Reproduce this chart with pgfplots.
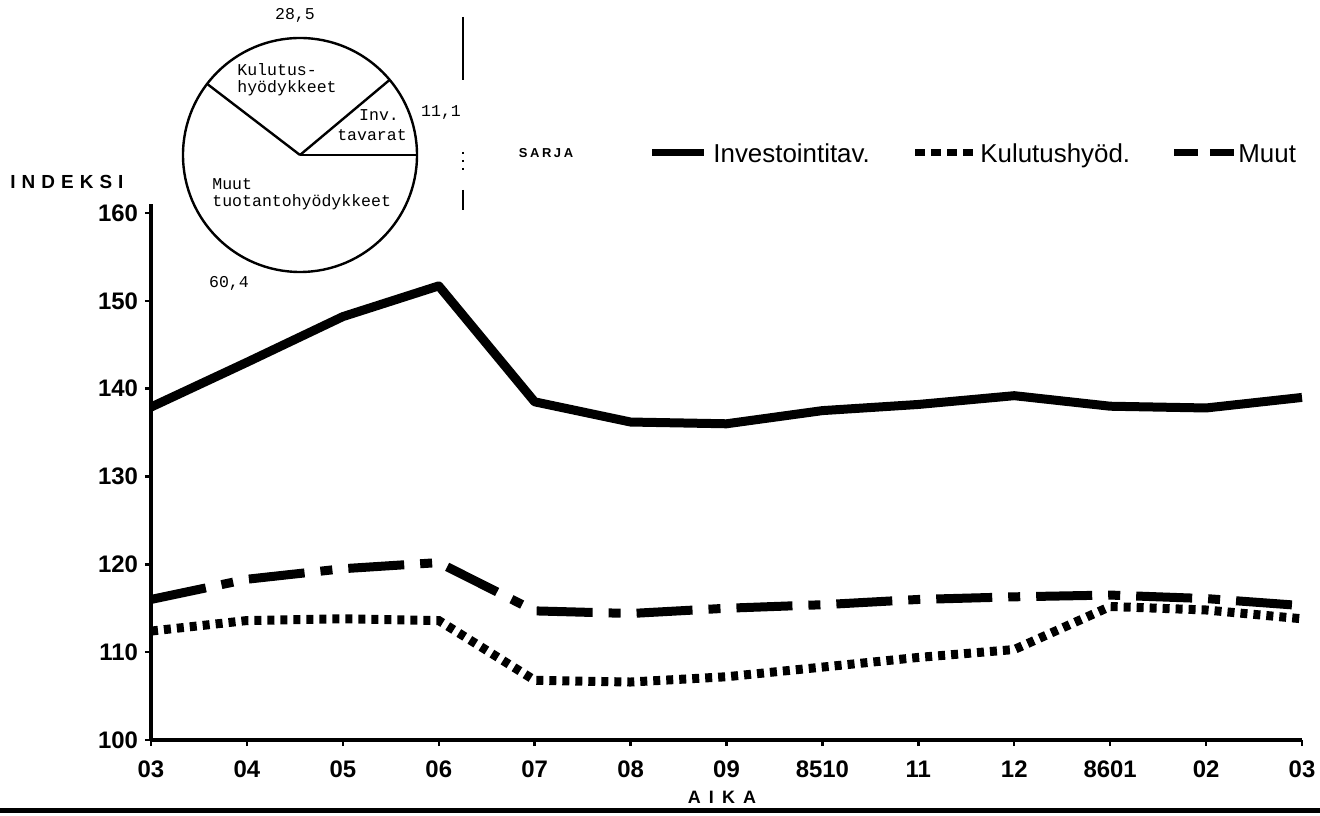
\documentclass[border=0pt]{standalone}
\usepackage{fontspec}
\setmainfont{Liberation Sans}
\newfontfamily\piefont{Liberation Mono}
\usepackage{pgfplots}
\usepackage{pgfplotstable}
\pgfplotsset{compat=1.18}

% indeksit kuukausittain, 8503 ... 8603
\pgfplotstableread{
x  inv   kul   muut
0  137.9 112.4 116.0
1  143.0 113.6 118.3
2  148.2 113.8 119.5
3  151.7 113.6 120.2
4  138.5 106.8 114.7
5  136.2 106.6 114.4
6  136.0 107.2 115.0
7  137.5 108.3 115.4
8  138.2 109.4 116.0
9  139.2 110.3 116.3
10 138.0 115.2 116.5
11 137.8 114.8 116.1
12 139.0 113.8 115.3
}\sarja

% piirakan osuudet
\def\pInv{11.1}
\def\pKul{28.5}
\def\pMuut{60.4}

\tikzset{
  invline/.style={line width=4.5bp, line join=round, line cap=butt},
  kulline/.style={line width=4.5bp, dash pattern=on 3.5bp off 3bp},
  muutline/.style={line width=4.5bp, dash pattern=on 28bp off 8bp on 6bp off 8bp},
  leg/.style={anchor=base west, inner sep=0, font=\fontsize{13}{13}\selectfont},
}

\begin{document}
\begin{tikzpicture}
\path[use as bounding box] (0,0) rectangle (660bp,408bp);

\begin{axis}[
  at={(75.5bp,38bp)}, anchor=south west,
  scale only axis, width=575.5bp, height=267.9bp,
  xmin=0, xmax=12, ymin=100, ymax=161,
  axis x line*=bottom, axis y line*=left,
  x axis line style={-}, y axis line style={-},
  axis line style={line width=1.6bp},
  xtick={0,...,12},
  xticklabels={03,04,05,06,07,08,09,8510,11,12,8601,02,03},
  ytick={100,110,...,160},
  tick align=outside, major tick length=3bp,
  tick style={line width=1.2bp, black},
  tick label style={font=\bfseries\fontsize{12}{12}\selectfont},
  /pgf/number format/assume math mode=true,
  xticklabel style={yshift=-4bp},
  clip=false,
]
\addplot[invline] table[x=x,y=inv]{\sarja};
\addplot[kulline] table[x=x,y=kul]{\sarja};
\addplot[muutline] table[x=x,y=muut]{\sarja};
\end{axis}

% akselien nimet
\node[anchor=west, inner sep=0, font=\bfseries\fontsize{9.5}{9.5}\selectfont\addfontfeatures{LetterSpace=32}] at (5bp,317bp) {INDEKSI};
\draw[line width=2.5bp] (0,2.5bp) -- (660bp,2.5bp);
\node[inner sep=0, font=\bfseries\fontsize{9}{9}\selectfont\addfontfeatures{LetterSpace=45}] at (361bp,9.5bp) {AIKA};

% selite
\node[inner sep=0, font=\bfseries\fontsize{6.5}{6.5}\selectfont\addfontfeatures{LetterSpace=20}] at (273bp,331.5bp) {SARJA};
\draw[line width=3.5bp] (326bp,331.5bp) -- (352bp,331.5bp);
\node[leg] at (356.5bp,326.8bp) {Investointitav.};
\draw[line width=3.5bp, dash pattern=on 5bp off 3bp] (457.5bp,331.5bp) -- (487bp,331.5bp);
\node[leg] at (490bp,326.8bp) {Kulutushyöd.};
\draw[line width=3.5bp, dash pattern=on 12bp off 6bp] (587bp,331.5bp) -- (617.5bp,331.5bp);
\node[leg] at (619bp,326.8bp) {Muut};

% piirakka
\coordinate (pc) at (150bp,330.5bp);
\fill[white] (pc) circle[radius=58.5bp];
\draw[line width=1.2bp] (pc) circle[radius=58.5bp];
\draw[line width=1.2bp] (pc) -- ++(0:58.5bp);
\draw[line width=1.2bp] (pc) -- ++({3.6*\pInv}:58.5bp);
\draw[line width=1.2bp] (pc) -- ++({3.6*(\pInv+\pKul)}:58.5bp);
\begin{scope}[every node/.style={inner sep=0, font=\piefont\fontsize{8.3}{8.3}\selectfont}]
\node at (147.5bp,400.5bp) {28,5};
\node at (220.5bp,351.5bp) {11,1};
\node at (114.5bp,266.5bp) {60,4};
\node[anchor=base west] at (118.5bp,370bp) {Kulutus-};
\node[anchor=base west] at (118.5bp,361.5bp) {hyödykkeet};
\node[anchor=base] at (189.5bp,347.5bp) {Inv.};
\node[anchor=base] at (186bp,337.5bp) {tavarat};
\node[anchor=base west] at (106bp,313bp) {Muut};
\node[anchor=base west] at (106bp,304.5bp) {tuotantohyödykkeet};
\end{scope}

% kehyksen jaanteet
\draw[line width=1.3bp] (231.5bp,399.5bp) -- (231.5bp,368bp);
\draw[line width=1.3bp] (231.5bp,313bp) -- (231.5bp,303bp);
\draw[line width=1bp, dash pattern=on 1bp off 3bp] (231.5bp,332bp) -- (231.5bp,321bp);
\end{tikzpicture}
\end{document}
